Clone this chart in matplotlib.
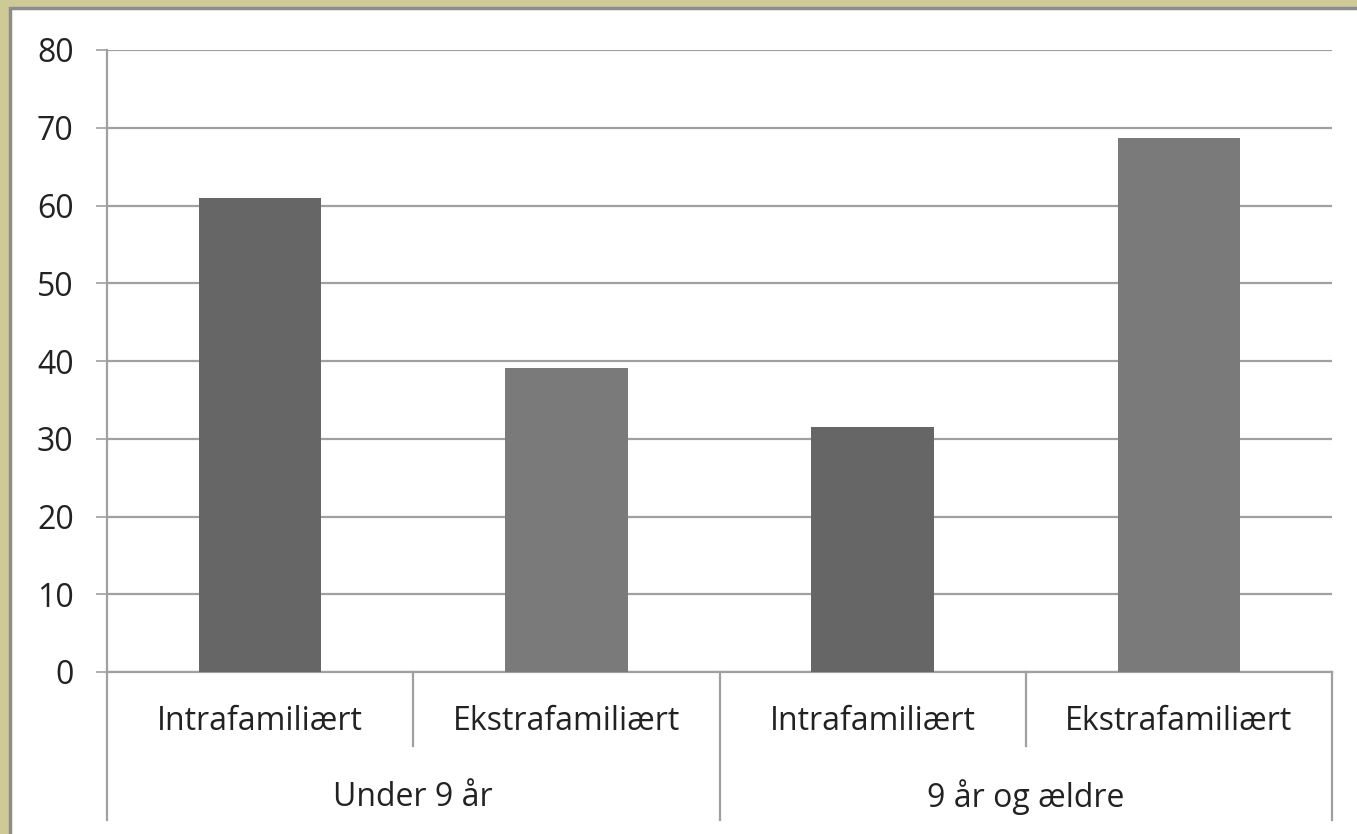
import matplotlib.pyplot as plt
from matplotlib.patches import Rectangle
from matplotlib.transforms import blended_transform_factory

plt.rcParams['font.family'] = ['Open Sans', 'DejaVu Sans']

groups = ['Under 9 år', '9 år og ældre']
subcats = ['Intrafamiliært', 'Ekstrafamiliært', 'Intrafamiliært', 'Ekstrafamiliært']
values = [61.0, 39.1, 31.5, 68.7]
bar_colors = ['#666666', '#7a7a7a', '#666666', '#7a7a7a']
yticks = [0, 10, 20, 30, 40, 50, 60, 70, 80]

W, H = 1357, 834
fig = plt.figure(figsize=(W / 100, H / 100), dpi=100)
fig.patch.set_facecolor('#cdca98')

# white panel with a gray edge on top of the olive frame
fig.patches.append(Rectangle((10 / W, -0.05), 1.2, (H - 8) / H + 0.05, transform=fig.transFigure,
                             facecolor='white', edgecolor='#8c8c8c', linewidth=2.5, zorder=-5))

ax = fig.add_axes([107 / W, (H - 672) / H, 1225 / W, 622 / H])
ax.set_facecolor('none')

x = list(range(len(values)))
ax.bar(x, values, width=0.4, color=bar_colors, zorder=3)

ax.set_xlim(-0.5, 3.5)
ax.set_ylim(0, 80)
ax.set_yticks(yticks)
ax.yaxis.grid(True, color='#a0a0a0', linewidth=1.6)
ax.set_axisbelow(True)
ax.tick_params(axis='y', length=8, width=1.2, color='#a0a0a0', pad=16, labelsize=23,
               labelcolor='#222222')
ax.set_xticks([])
for s in ['top', 'right', 'bottom']:
    ax.spines[s].set_visible(False)
ax.spines['left'].set_color('#a0a0a0')
ax.spines['left'].set_linewidth(1.6)

# two-level category axis
tr = blended_transform_factory(ax.transData, ax.transAxes)
for xi, ln in zip([-0.5, 0.5, 1.5, 2.5, 3.5], [0.238, 0.119, 0.238, 0.119, 0.238]):
    ax.plot([xi, xi], [0, -ln], transform=tr, color='#a0a0a0', linewidth=1.6, clip_on=False)
ax.plot([-0.5, 3.5], [0, 0], transform=tr, color='#a0a0a0', linewidth=1.6, clip_on=False)

for xi, lab in zip(x, subcats):
    ax.text(xi, -0.08, lab, transform=tr, ha='center', va='center', fontsize=23, color='#222222')
for gi, lab in enumerate(groups):
    ax.text(gi * 2 + 0.5, -0.201, lab, transform=tr, ha='center', va='center', fontsize=23,
            color='#222222')

fig.savefig('out.png', dpi=100, facecolor=fig.get_facecolor())
